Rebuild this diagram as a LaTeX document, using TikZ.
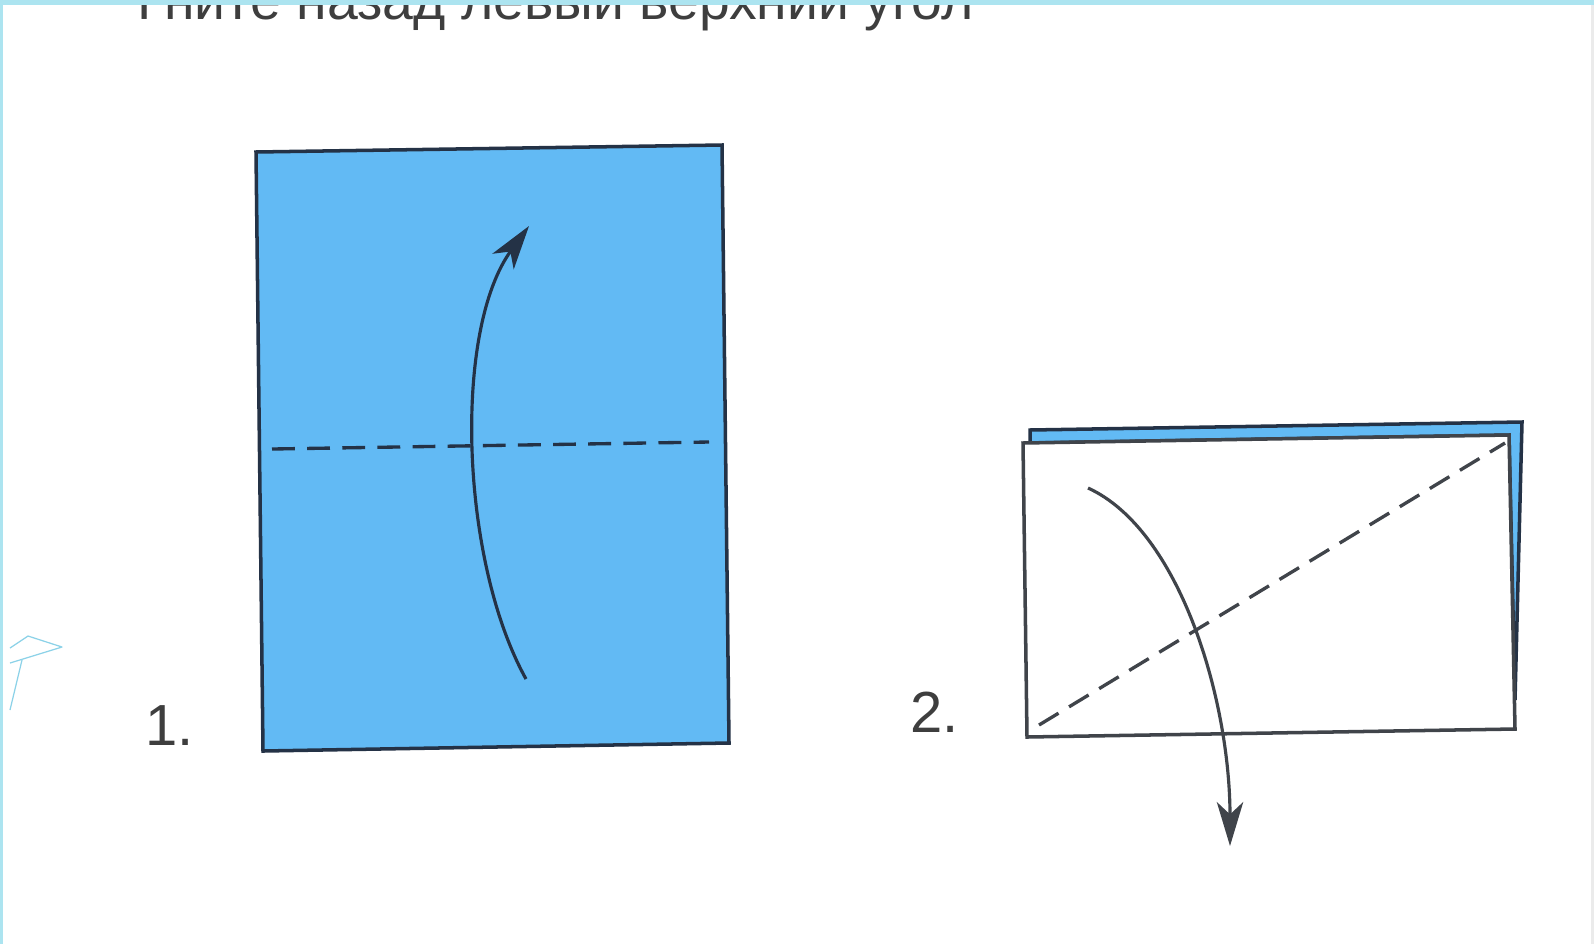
\documentclass[tikz,border=0pt]{standalone}
\usepackage{fontspec}
\setmainfont{Liberation Sans}
\usetikzlibrary{arrows.meta}

\definecolor{paperblue}{RGB}{98,186,244}
\definecolor{edgeblue}{RGB}{36,50,70}
\definecolor{inkgray}{RGB}{64,68,74}
\definecolor{textgray}{RGB}{62,62,62}
\definecolor{scancyan}{RGB}{172,228,240}
\definecolor{pencyan}{RGB}{140,210,232}

\tikzset{
  edge/.style={line width=2pt, line join=miter},
  fold/.style={line width=1.9pt, dash pattern=on 13pt off 7pt},
  turn/.style={line width=1.8pt, -{Stealth[length=25pt,width=15pt,inset=7pt]}},
  stepnum/.style={font=\fontsize{33}{36}\selectfont, text=textgray, inner sep=0pt, anchor=base west}
}

\begin{document}
\begin{tikzpicture}[x=0.02cm,y=-0.02cm]
\useasboundingbox (0,0) rectangle (1594,944);
\fill[white] (0,0) rectangle (1594,944);

% cut heading
\begin{scope}
\clip (0,5) rectangle (1594,60);
\node[anchor=base west, inner sep=0pt, font=\fontsize{31.5}{34}\selectfont, text=textgray] (heading) at (137,19) {Гните назад левый верхний угол};
\end{scope}

% step 1
\filldraw[fill=paperblue, draw=edgeblue, edge] (256,152) -- (722,145) -- (729,743) -- (263,751) -- cycle;
\draw[fold, edgeblue] (272,449) -- (709,442);
\coordinate (up0) at (526,679);
\coordinate (up1) at (529,226);
\draw[turn, edgeblue] (up0) .. controls (460,560) and (453,330) .. (up1);
\node[stepnum] (num1) at (145,745) {1.};

% step 2
\filldraw[fill=paperblue, draw=edgeblue, edge] (1030,443) -- (1030,430) -- (1522,422) -- (1515,700) -- (1509,435) -- cycle;
\filldraw[fill=white, draw=inkgray, edge] (1023,443) -- (1509,435) -- (1515,729) -- (1027,737) -- cycle;
\draw[fold, inkgray] (1039,725) -- (1505,443);
\coordinate (down0) at (1088,488);
\coordinate (down1) at (1230,846);
\draw[turn, inkgray] (down0) .. controls (1180,530) and (1230,700) .. (down1);
\node[stepnum] (num2) at (910,732) {2.};

% pen mark at left
\draw[pencyan, line width=0.7pt, line join=round] (10,648) -- (28,636) -- (62,647) -- (10,663);
\draw[pencyan, line width=0.7pt] (22,660) -- (10,710);

% scan edges
\fill[scancyan] (0,0) rectangle (1594,5);
\fill[scancyan] (0,0) rectangle (3,944);
\fill[black!8] (1591,5) rectangle (1594,944);
\end{tikzpicture}
\end{document}
